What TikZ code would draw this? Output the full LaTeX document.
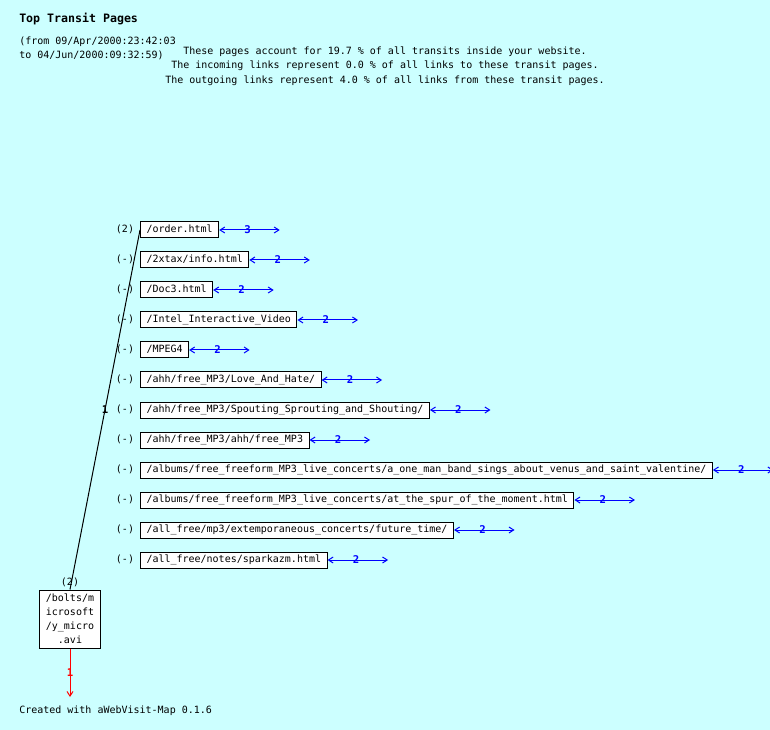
\documentclass[tikz,border=0pt]{standalone}
\usepackage{fontspec}
\setmainfont{DejaVu Sans Mono}
\usetikzlibrary{arrows.meta,calc}
\definecolor{bgc}{HTML}{CCFFFF}
\definecolor{lnkblue}{HTML}{0000FF}
\definecolor{lnkred}{HTML}{FF0000}
\tikzset{
  base/.style={font=\fontsize{7.5pt}{10.5pt}\selectfont, inner sep=0pt, text height=5.6pt, text depth=1.6pt},
  page/.style={base, draw=black, line width=0.75pt, fill=white, anchor=west, inner xsep=4.5pt, inner ysep=0pt, minimum height=12pt},
  cnt/.style={base},
  lefttext/.style={base, anchor=west},
  midtext/.style={base},
  titletext/.style={base, anchor=west, font=\fontsize{8.7pt}{10pt}\selectfont\bfseries},
  num/.style={font=\fontsize{8pt}{9pt}\selectfont\bfseries, inner sep=0pt},
  barb/.tip={Straight Barb[length=3.5pt,width=4.5pt]},
  outlink/.style={draw=lnkblue, line width=0.75pt, {barb}-{barb}},
  inlink/.style={draw=black, line width=0.75pt},
  downlink/.style={draw=lnkred, line width=0.75pt, -{barb}},
}
\begin{document}
\begin{tikzpicture}[x=0.75pt, y=-0.75pt]
\fill[bgc] (0,0) rectangle (770,730);
\useasboundingbox (0,0) rectangle (770,730);

% header
\node[titletext] (title) at (19,20) {Top Transit Pages};
\node[lefttext] (from1) at (19,42) {(from 09/Apr/2000:23:42:03};
\node[lefttext] (from2) at (19,56) {to 04/Jun/2000:09:32:59)};
\node[midtext] (stat1) at (385,51.5) {These pages account for 19.7 \% of all transits inside your website.};
\node[midtext] (stat2) at (385,66) {The incoming links represent 0.0 \% of all links to these transit pages.};
\node[midtext] (stat3) at (385,81) {The outgoing links represent 4.0 \% of all links from these transit pages.};

% rows
\node[cnt] (c1) at (125,230) {(2)};
\node[page] (p1) at (140,230) {/order.html};
\coordinate (e1) at ($(p1.east)+(60.5,0)$);
\draw[outlink] (p1.east) -- node[num,text=lnkblue,pos=0.47]{3} (e1);

\node[cnt] (c2) at (125,260) {(-)};
\node[page] (p2) at (140,260) {/2xtax/info.html};
\coordinate (e2) at ($(p2.east)+(60.5,0)$);
\draw[outlink] (p2.east) -- node[num,text=lnkblue,pos=0.47]{2} (e2);

\node[cnt] (c3) at (125,290) {(-)};
\node[page] (p3) at (140,290) {/Doc3.html};
\coordinate (e3) at ($(p3.east)+(60.5,0)$);
\draw[outlink] (p3.east) -- node[num,text=lnkblue,pos=0.47]{2} (e3);

\node[cnt] (c4) at (125,320) {(-)};
\node[page] (p4) at (140,320) {/Intel\_Interactive\_Video};
\coordinate (e4) at ($(p4.east)+(60.5,0)$);
\draw[outlink] (p4.east) -- node[num,text=lnkblue,pos=0.47]{2} (e4);

\node[cnt] (c5) at (125,350) {(-)};
\node[page] (p5) at (140,350) {/MPEG4};
\coordinate (e5) at ($(p5.east)+(60.5,0)$);
\draw[outlink] (p5.east) -- node[num,text=lnkblue,pos=0.47]{2} (e5);

\node[cnt] (c6) at (125,380) {(-)};
\node[page] (p6) at (140,380) {/ahh/free\_MP3/Love\_And\_Hate/};
\coordinate (e6) at ($(p6.east)+(60.5,0)$);
\draw[outlink] (p6.east) -- node[num,text=lnkblue,pos=0.47]{2} (e6);

\node[cnt] (c7) at (125,410) {(-)};
\node[page] (p7) at (140,410) {/ahh/free\_MP3/Spouting\_Sprouting\_and\_Shouting/};
\coordinate (e7) at ($(p7.east)+(60.5,0)$);
\draw[outlink] (p7.east) -- node[num,text=lnkblue,pos=0.47]{2} (e7);

\node[cnt] (c8) at (125,440) {(-)};
\node[page] (p8) at (140,440) {/ahh/free\_MP3/ahh/free\_MP3};
\coordinate (e8) at ($(p8.east)+(60.5,0)$);
\draw[outlink] (p8.east) -- node[num,text=lnkblue,pos=0.47]{2} (e8);

\node[cnt] (c9) at (125,470) {(-)};
\node[page] (p9) at (140,470) {/albums/free\_freeform\_MP3\_live\_concerts/a\_one\_man\_band\_sings\_about\_venus\_and\_saint\_valentine/};
\coordinate (e9) at ($(p9.east)+(60.5,0)$);
\draw[outlink] (p9.east) -- node[num,text=lnkblue,pos=0.47]{2} (e9);

\node[cnt] (c10) at (125,500) {(-)};
\node[page] (p10) at (140,500) {/albums/free\_freeform\_MP3\_live\_concerts/at\_the\_spur\_of\_the\_moment.html};
\coordinate (e10) at ($(p10.east)+(60.5,0)$);
\draw[outlink] (p10.east) -- node[num,text=lnkblue,pos=0.47]{2} (e10);

\node[cnt] (c11) at (125,530) {(-)};
\node[page] (p11) at (140,530) {/all\_free/mp3/extemporaneous\_concerts/future\_time/};
\coordinate (e11) at ($(p11.east)+(60.5,0)$);
\draw[outlink] (p11.east) -- node[num,text=lnkblue,pos=0.47]{2} (e11);

\node[cnt] (c12) at (125,560) {(-)};
\node[page] (p12) at (140,560) {/all\_free/notes/sparkazm.html};
\coordinate (e12) at ($(p12.east)+(60.5,0)$);
\draw[outlink] (p12.east) -- node[num,text=lnkblue,pos=0.47]{2} (e12);

% source page
\node[page, anchor=center, align=center, minimum width=45pt, minimum height=43.5pt, text height=, text depth=, inner ysep=1pt] (src) at (70,619)
  {/bolts/m\\icrosoft\\/y\_micro\\.avi};
\node[cnt] (srccnt) at (70,583) {(2)};
\draw[inlink] (src.north) -- node[num]{1} (p1.west);
\coordinate (exit) at (70,697);
\draw[downlink] (src.south) -- node[num,text=lnkred]{1} (exit);

% footer
\node[lefttext] (foot) at (19,711) {Created with aWebVisit-Map 0.1.6};
\end{tikzpicture}
\end{document}
